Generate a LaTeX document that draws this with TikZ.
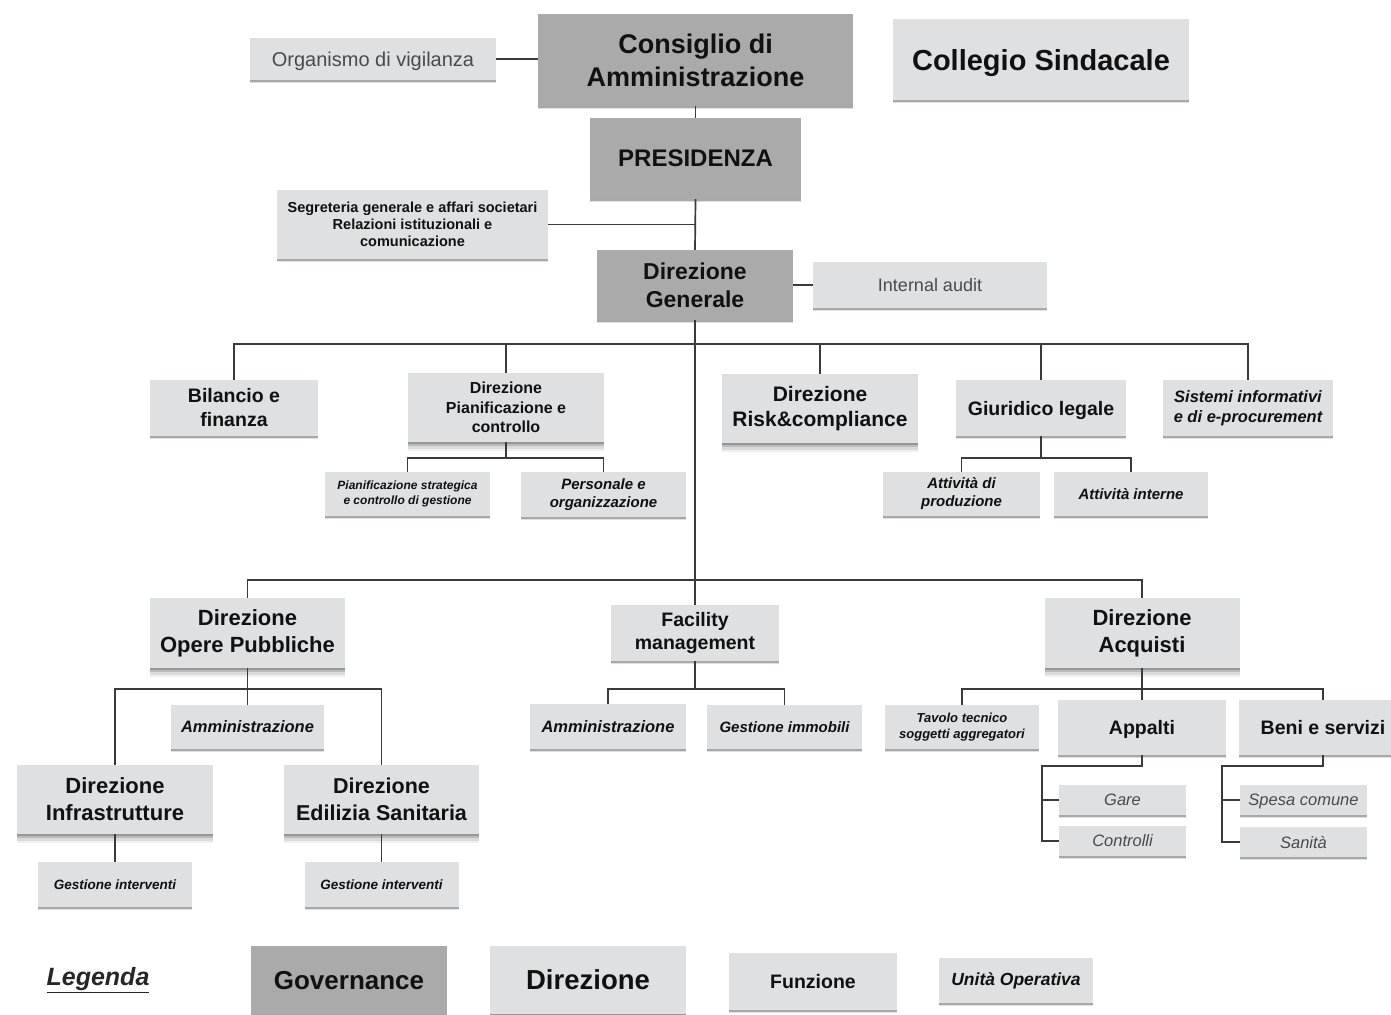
\documentclass[tikz,border=0pt]{standalone}
\usepackage{fontspec}
\setmainfont{Liberation Sans}
\usetikzlibrary{shadows}
\definecolor{govc}{HTML}{A9AAA9}
\definecolor{lightc}{HTML}{DFE0E1}
\definecolor{linec}{HTML}{3A3A3A}
\definecolor{txtc}{HTML}{111111}
\definecolor{thinc}{HTML}{4A4A4A}
\tikzset{
  box/.style={inner sep=0pt, align=center, text=txtc},
  sshadow/.style={drop shadow={shadow xshift=0pt,shadow yshift=-3pt,opacity=0.12,fill=black},
                  drop shadow={shadow xshift=0pt,shadow yshift=-2pt,opacity=0.25,fill=black}},
  bshadow/.style={drop shadow={shadow xshift=0pt,shadow yshift=-9pt,opacity=0.06,fill=black},
                  drop shadow={shadow xshift=0pt,shadow yshift=-6.5pt,opacity=0.09,fill=black},
                  drop shadow={shadow xshift=0pt,shadow yshift=-4pt,opacity=0.14,fill=black},
                  drop shadow={shadow xshift=0pt,shadow yshift=-2pt,opacity=0.2,fill=black}},
  gov/.style={box, fill=govc, sshadow},
  dirbox/.style={box, fill=lightc, bshadow},
  funbox/.style={box, fill=lightc, sshadow},
  uobox/.style={box, fill=lightc, sshadow},
  thinbox/.style={box, fill=lightc, sshadow, text=thinc},
  sl/.style={text depth=0pt},
  B/.style 2 args={font=\bfseries\fontsize{#1}{#2}\selectfont},
  BI/.style 2 args={font=\bfseries\itshape\fontsize{#1}{#2}\selectfont},
  R/.style 2 args={font=\fontsize{#1}{#2}\selectfont},
  RI/.style 2 args={font=\itshape\fontsize{#1}{#2}\selectfont},
  conn/.style={draw=linec, line width=1.7pt},
  W/.style={minimum width=#1pt},
  H/.style={minimum height=#1pt}
}
\begin{document}
\begin{tikzpicture}[x=1pt,y=-1pt]
\useasboundingbox (0,0) rectangle (1391,1014);

% ---- governance top
\node[gov, W=315, H=92, B={27}{33}] (cda) at (695.5,60) {Consiglio di\\Amministrazione};
\node[gov, W=211, H=81, B={24}{29}] (pres) at (695.5,158.5) {PRESIDENZA};
\node[gov, W=196, H=70, B={23}{28}] (dg) at (695,285) {Direzione\\Generale};
\node[thinbox, sl, W=246, H=42, R={20}{24}] (odv) at (373,59) {Organismo di vigilanza};
\node[funbox, sl, W=296, H=81, B={29}{34}] (cs) at (1041,59.5) {Collegio Sindacale};
\node[funbox, W=271, H=69, B={14.5}{17}] (seg) at (412.5,224.5) {Segreteria generale e affari societari\\Relazioni istituzionali e\\comunicazione};
\node[thinbox, W=234, H=46, R={18}{22}] (ia) at (930,285) {Internal audit};

% ---- first row
\node[funbox, W=168, H=56, B={19.5}{24}] (bil) at (234,408) {Bilancio e\\finanza};
\node[dirbox, W=196, H=69, B={16}{19.5}] (dpc) at (506,407.5) {Direzione\\Pianificazione e\\controllo};
\node[dirbox, W=196, H=69, B={21}{25}] (risk) at (820,408.5) {Direzione\\Risk\&compliance};
\node[funbox, sl, W=170, H=56, B={19.5}{24}] (giu) at (1041,408) {Giuridico legale};
\node[funbox, W=170, H=56, BI={16.5}{20}] (sis) at (1248,408) {Sistemi informativi\\e di e-procurement};
\node[uobox, W=165, H=44, BI={12}{15}] (psc) at (407.5,494) {Pianificazione strategica\\e controllo di gestione};
\node[uobox, W=165, H=45, BI={15}{18}] (peo) at (603.5,494.5) {Personale e\\organizzazione};
\node[uobox, W=157, H=44, BI={15}{18}] (adp) at (961.5,494) {Attività di\\produzione};
\node[uobox, W=154, H=44, BI={15}{18}] (ain) at (1131,494) {Attività interne};

% ---- second row
\node[dirbox, W=195, H=70, B={22}{27}] (dop) at (247.5,633) {Direzione\\Opere Pubbliche};
\node[funbox, W=168, H=56, B={19.5}{23.5}] (fm) at (695,633) {Facility\\management};
\node[dirbox, W=195, H=70, B={22}{27}] (dac) at (1142,633) {Direzione\\Acquisti};
\node[uobox, W=153, H=44, BI={16.5}{20}] (am1) at (247.5,727) {Amministrazione};
\node[dirbox, W=196, H=69, B={22}{27}] (dinf) at (115,799.5) {Direzione\\Infrastrutture};
\node[dirbox, W=195, H=69, B={21.5}{27}] (des) at (381.5,799.5) {Direzione\\Edilizia Sanitaria};
\node[uobox, sl, W=154, H=45, BI={13.5}{16}] (gi1) at (115,884.5) {Gestione interventi};
\node[uobox, sl, W=154, H=45, BI={13.5}{16}] (gi2) at (381.5,884.5) {Gestione interventi};
\node[uobox, W=156, H=45, BI={16.5}{20}] (am2) at (608,726.5) {Amministrazione};
\node[uobox, W=155, H=44, BI={15}{18}] (gim) at (784.5,727) {Gestione immobili};
\node[uobox, W=154, H=44, BI={13}{16}] (tav) at (962,727) {Tavolo tecnico\\soggetti aggregatori};
\node[funbox, sl, W=168, H=55, B={19.5}{23}] (app) at (1142,727.5) {Appalti};
\node[funbox, W=168, H=55, B={19.5}{23}] (ben) at (1323,727.5) {Beni e servizi};
\node[thinbox, sl, W=127, H=30, RI={16.5}{20}] (gar) at (1122.5,800) {Gare};
\node[thinbox, W=127, H=30, RI={16.5}{20}] (con) at (1122.5,841) {Controlli};
\node[thinbox, sl, W=127, H=30, RI={16.5}{20}] (spe) at (1303.5,800) {Spesa comune};
\node[thinbox, W=127, H=30, RI={16.5}{20}] (san) at (1303.5,842) {Sanità};

% ---- legend
\node[box, text=black!85, BI={25}{30}] (leg) at (98,980) {\underline{Legenda}};
\node[gov, sl, W=196, H=68, B={26}{30}] (lgov) at (349,980) {Governance};
\node[dirbox, W=196, H=68, B={27.5}{32}] (ldir) at (588,980) {Direzione};
\node[funbox, W=168, H=57, B={19.5}{23}] (lfun) at (813,981.5) {Funzione};
\node[uobox, W=154, H=45, BI={17.5}{21}] (luo) at (1016,980.5) {Unità Operativa};

% ---- bus coordinates
\coordinate (b1) at (0,344);
\coordinate (b2) at (0,580);
\coordinate (b3) at (0,458);
\coordinate (b5) at (0,689);
\coordinate (ac) at (1042,766);
\coordinate (bc) at (1222,766);

% ---- connectors
\draw[conn] (odv.east) -- (odv.east -| cda.west);
\draw[conn] (cda.south) -- (pres.north);
\draw[conn] (pres.south) -- (dg.north);
\draw[conn] (seg.east) -- (seg.east -| pres.south);
\draw[conn] (dg.east) -- (ia.west);
\draw[conn] (dg.south) -- (fm.north);
\draw[conn] (bil.north) |- (sis.north |- b1) -- (sis.north);
\draw[conn] (dpc.north) -- (dpc.north |- b1);
\draw[conn] (risk.north) -- (risk.north |- b1);
\draw[conn] (giu.north) -- (giu.north |- b1);
\draw[conn] (dpc.south) -- (dpc.south |- b3);
\draw[conn] (psc.north) |- (peo.north |- b3) -- (peo.north);
\draw[conn] (giu.south) -- (giu.south |- b3);
\draw[conn] (adp.north) |- (ain.north |- b3) -- (ain.north);
\draw[conn] (dop.north) |- (dac.north |- b2) -- (dac.north);
\draw[conn] (dinf.north) |- (des.north |- b5) -- (des.north);
\draw[conn] (dop.south) -- (am1.north);
\draw[conn] (dinf.south) -- (gi1.north);
\draw[conn] (des.south) -- (gi2.north);
\draw[conn] (fm.south) -- (fm.south |- b5);
\draw[conn] (am2.north) |- (gim.north |- b5) -- (gim.north);
\draw[conn] (dac.south) -- (app.north);
\draw[conn] (tav.north) |- (ben.north |- b5) -- (ben.north);
\draw[conn] (app.south) |- (ac) |- (con.west);
\draw[conn] (ac |- gar.west) -- (gar.west);
\draw[conn] (ben.south) |- (bc) |- (san.west);
\draw[conn] (bc |- spe.west) -- (spe.west);
\end{tikzpicture}
\end{document}
